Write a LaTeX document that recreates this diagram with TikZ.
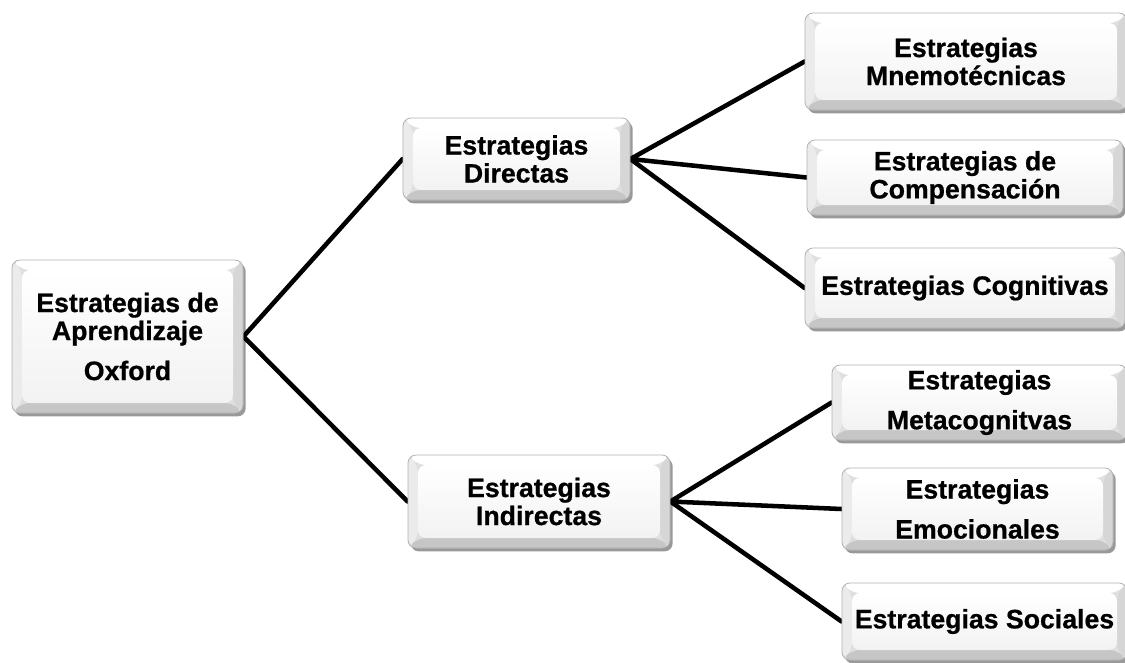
\documentclass[tikz,border=0pt]{standalone}
\usepackage{fontspec}
\setmainfont{Liberation Sans}[BoldFeatures={FakeBold=0.7}]
\usetikzlibrary{shadows,backgrounds}
\newlength{\bw}
\setlength{\bw}{7.5pt}
\tikzset{
  bev/.style={rectangle, rounded corners=6pt, draw=gray!60, line width=0.6pt, fill=gray!25,
    drop shadow={shadow xshift=2pt, shadow yshift=-2.5pt, opacity=0.4, fill=black},
    font=\bfseries\fontsize{20}{21}\selectfont, align=center, inner sep=0pt,
    path picture={
      \coordinate (bsw) at (path picture bounding box.south west);
      \coordinate (bne) at (path picture bounding box.north east);
      \coordinate (bnw) at (path picture bounding box.north west);
      \coordinate (bse) at (path picture bounding box.south east);
      \coordinate (isw) at ([xshift=\bw,yshift=\bw]bsw);
      \coordinate (ine) at ([xshift=-\bw,yshift=-\bw]bne);
      \coordinate (inw) at ([xshift=\bw,yshift=-\bw]bnw);
      \coordinate (ise) at ([xshift=-\bw,yshift=\bw]bse);
      \fill[white] (bnw) -- (bne) -- (ine) -- (inw) -- cycle;
      \fill[gray!16] (bnw) -- (inw) -- (isw) -- (bsw) -- cycle;
      \fill[gray!45] (bsw) -- (isw) -- (ise) -- (bse) -- cycle;
      \fill[gray!32] (bse) -- (ise) -- (ine) -- (bne) -- cycle;
      \shade[top color=white, bottom color=gray!10] (isw) rectangle (ine);
    }},
  conn/.style={line width=3.4pt, line cap=round, line join=round, black}
}
\begin{document}
\begin{tikzpicture}[x=0.75pt,y=-0.75pt]
\useasboundingbox (0,0) rectangle (1125,662);
\node[bev, minimum width=231*0.75pt, minimum height=153*0.75pt] (root) at (127.5,336.5)
  {Estrategias de\\Aprendizaje\\[9pt]Oxford};
\node[bev, minimum width=227*0.75pt, minimum height=82*0.75pt] (dir) at (516.5,159)
  {Estrategias\\Directas};
\node[bev, minimum width=262*0.75pt, minimum height=93*0.75pt] (ind) at (539,501.5)
  {Estrategias\\Indirectas};
\node[bev, minimum width=322*0.75pt, minimum height=97*0.75pt] (mne) at (966,61.5)
  {Estrategias\\Mnemotécnicas};
\node[bev, minimum width=316*0.75pt, minimum height=75*0.75pt] (com) at (965,177.5)
  {Estrategias de\\Compensación};
\node[bev, minimum width=320*0.75pt, minimum height=80*0.75pt] (cog) at (965,288)
  {Estrategias Cognitivas};
\node[bev, minimum width=295*0.75pt, minimum height=75*0.75pt] (meta) at (979.5,402.5)
  {Estrategias\\[9pt]Metacognitvas};
\node[bev, minimum width=271*0.75pt, minimum height=82*0.75pt] (emo) at (977.5,509)
  {Estrategias\\[9pt]Emocionales};
\node[bev, minimum width=285*0.75pt, minimum height=77*0.75pt] (soc) at (984.5,621.5)
  {Estrategias Sociales};
\begin{pgfonlayer}{background}
\draw[conn] (dir.west) -- (root.east) -- (ind.west);
\draw[conn] (mne.west) -- (dir.east) -- (com.west);
\draw[conn] (dir.east) -- (cog.west);
\draw[conn] (meta.west) -- (ind.east) -- (emo.west);
\draw[conn] (ind.east) -- (soc.west);
\end{pgfonlayer}
\end{tikzpicture}
\end{document}
